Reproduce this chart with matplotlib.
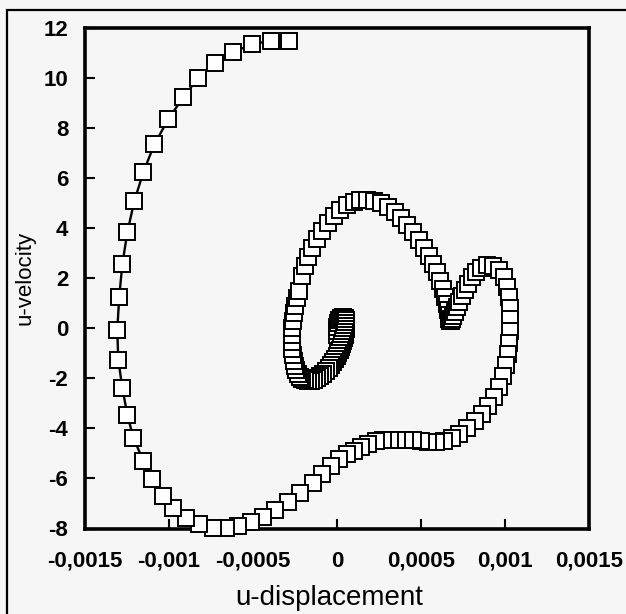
"""Phase portrait: u-velocity against u-displacement."""
import matplotlib
matplotlib.use("Agg")
import matplotlib.pyplot as plt
import matplotlib.patches as patches
import numpy as np

# displacement in units of 1e-4 in time order
disp_e4 = [
    0.02, 0.02, 0.02, 0.08, 0.14, 0.26, 0.38, 0.49, 0.55, 0.55,
    0.55, 0.55, 0.49, 0.49, 0.43, 0.38, 0.32, 0.26, 0.20, 0.08,
    0.02, -0.10, -0.22, -0.34, -0.46, -0.64, -0.82, -0.99, -1.17, -1.35,
    -1.53, -1.71, -1.89, -2.07, -2.18, -2.30, -2.42, -2.48, -2.54, -2.60,
    -2.66, -2.66, -2.66, -2.66, -2.60, -2.54, -2.48, -2.36, -2.24,
    -2.07, -1.89, -1.71, -1.47, -1.17, -0.88, -0.52, -0.16, 0.20, 0.61,
    1.03, 1.39, 1.80, 2.22, 2.64, 3.05, 3.47, 3.83, 4.18, 4.54,
    4.90, 5.20, 5.49, 5.73, 5.97, 6.15, 6.33, 6.45, 6.57, 6.63,
    6.68, 6.68, 6.74, 6.80, 6.86, 6.92, 7.04, 7.16, 7.28, 7.46,
    7.64, 7.82, 8.05, 8.29, 8.59, 8.95, 9.30, 9.66, 9.96, 10.14,
    10.26, 10.32, 10.32, 10.32, 10.26, 10.20, 10.08, 9.90, 9.66, 9.36,
    9.01, 8.65, 8.23, 7.76, 7.28, 6.86, 6.39, 5.91, 5.43, 5.02,
    4.54, 4.07, 3.59, 3.17, 2.76, 2.34, 1.86, 1.45, 1.03, 0.61,
    0.14, -0.34, -0.88, -1.41, -2.18, -2.90, -3.67, -4.39, -5.10, -5.88,
    -6.59, -7.36, -8.20, -8.97, -9.74, -10.33, -10.99, -11.53, -12.12, -12.48,
    -12.78, -13.02, -13.08, -12.96, -12.78, -12.48, -12.07, -11.53, -10.87, -10.04,
    -9.15, -8.26, -7.24, -6.17, -5.04, -3.91, -2.84,
]
velocity = [
    -0.26, -0.10, 0.06, 0.22, 0.34, 0.42, 0.46, 0.42, 0.34, 0.22,
    0.10, -0.02, -0.14, -0.26, -0.38, -0.50, -0.62, -0.74, -0.86, -0.98,
    -1.10, -1.22, -1.34, -1.46, -1.58, -1.70, -1.82, -1.90, -1.98, -2.06,
    -2.10, -2.10, -2.06, -2.02, -1.94, -1.82, -1.66, -1.50, -1.30, -1.06,
    -0.82, -0.54, -0.26, 0.02, 0.30, 0.62, 0.90, 1.22, 1.50,
    2.06, 2.46, 2.82, 3.18, 3.54, 3.86, 4.18, 4.46, 4.70, 4.90,
    5.02, 5.10, 5.10, 5.06, 4.98, 4.82, 4.62, 4.38, 4.10, 3.82,
    3.50, 3.18, 2.86, 2.54, 2.22, 1.90, 1.58, 1.26, 0.98, 0.74,
    0.54, 0.38, 0.30, 0.30, 0.38, 0.50, 0.66, 0.86, 1.06, 1.30,
    1.54, 1.78, 2.02, 2.22, 2.38, 2.50, 2.46, 2.30, 2.02, 1.66,
    1.26, 0.82, 0.38, -0.10, -0.58, -1.02, -1.46, -1.90, -2.34, -2.74,
    -3.10, -3.42, -3.70, -3.98, -4.22, -4.38, -4.50, -4.54, -4.54, -4.50,
    -4.46, -4.46, -4.46, -4.46, -4.46, -4.50, -4.62, -4.74, -4.90, -5.02,
    -5.22, -5.50, -5.82, -6.18, -6.58, -6.94, -7.26, -7.54, -7.74, -7.90,
    -7.98, -7.98, -7.82, -7.58, -7.18, -6.70, -6.02, -5.30, -4.38, -3.46,
    -2.38, -1.26, -0.06, 1.26, 2.54, 3.82, 5.06, 6.22, 7.34, 8.34,
    9.22, 9.98, 10.58, 11.02, 11.34, 11.46, 11.46,
]

x_ticks = [-0.0015, -0.001, -0.0005, 0, 0.0005, 0.001, 0.0015]
x_tick_labels = ["-0,0015", "-0,001", "-0,0005", "0", "0,0005", "0,001", "0,0015"]
y_ticks = [-8, -6, -4, -2, 0, 2, 4, 6, 8, 10, 12]
y_tick_labels = ["-8", "-6", "-4", "-2", "0", "2", "4", "6", "8", "10", "12"]

bg = "#f6f6f6"
plt.rcParams["font.family"] = ["Liberation Sans", "DejaVu Sans"]

fig = plt.figure(figsize=(6.26, 6.14), dpi=100, facecolor=bg)
W, H = 626, 614
ax = fig.add_axes([85 / W, 1 - 528.5 / H, 504 / W, 501 / H], facecolor=bg)

x = np.array(disp_e4) * 1e-4
ax.plot(x, velocity, "-", color="black", linewidth=1.7, marker="s",
        markersize=11.3, markerfacecolor="white", markeredgecolor="black",
        markeredgewidth=1.4, clip_on=False, zorder=3)

ax.set_xlim(-0.0015, 0.0015)
ax.set_ylim(-8, 12)
ax.set_xticks(x_ticks)
ax.set_xticklabels(x_tick_labels)
ax.set_yticks(y_ticks)
ax.set_yticklabels(y_tick_labels)
ax.tick_params(axis="both", direction="in", length=7, width=1.5, labelsize=16)
ax.tick_params(axis="x", pad=16)
ax.tick_params(axis="y", pad=12)
for lab in ax.get_xticklabels() + ax.get_yticklabels():
    lab.set_fontweight("bold")
for spine in ax.spines.values():
    spine.set_linewidth(2.6)

ax.set_xlabel("u-displacement", fontsize=20)
ax.xaxis.set_label_coords(0.484, -0.112)
ax.set_ylabel("u-velocity", fontsize=16)
ax.yaxis.set_label_coords(-0.098, 0.5)

# outer frame around the figure, cut off at the right and bottom
frame = patches.Rectangle((7 / W, -0.01), 1.05, 1 - 10 / H + 0.01,
                          transform=fig.transFigure, fill=False,
                          edgecolor="black", linewidth=1.6, clip_on=False)
fig.patches.append(frame)

fig.savefig("out.png", dpi=100, facecolor=bg)
